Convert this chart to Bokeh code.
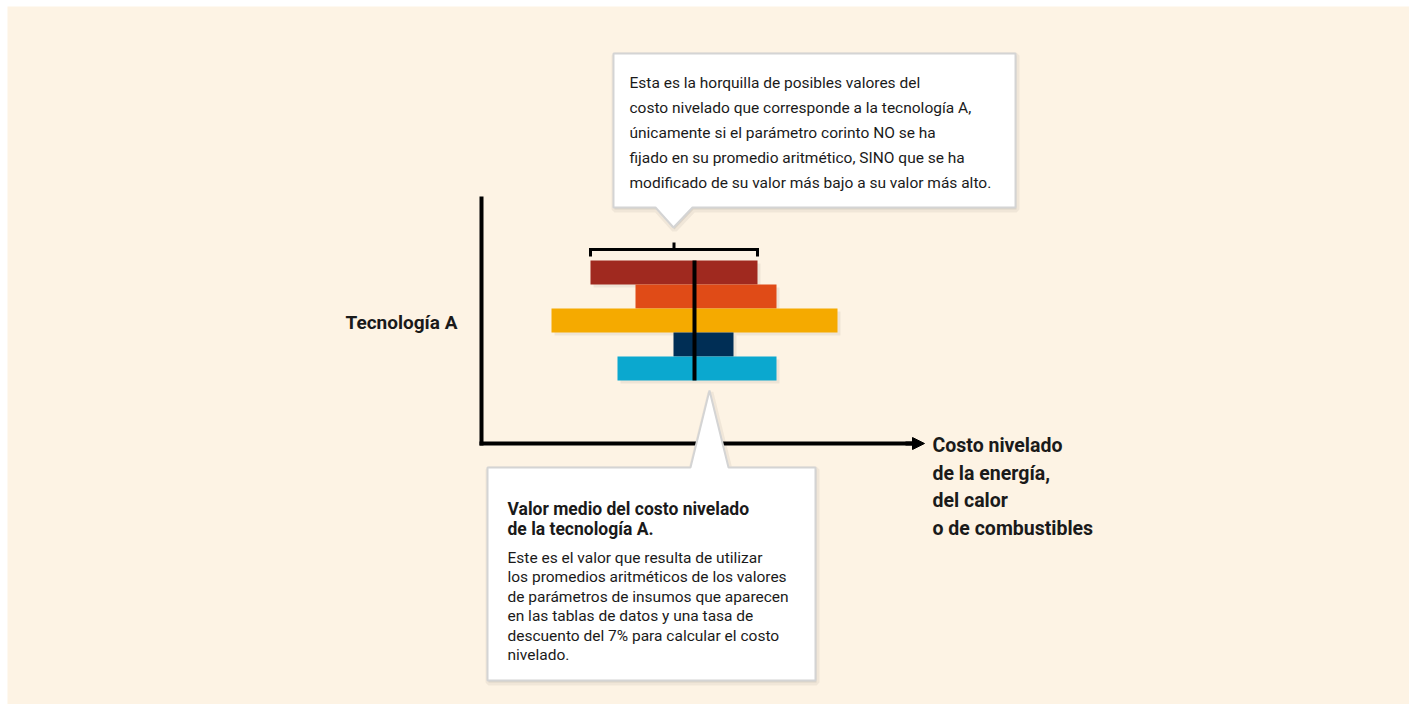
from bokeh.plotting import figure
from bokeh.models import Range1d, Arrow, NormalHead
from bokeh.embed import file_html
from bokeh.resources import INLINE
from bokeh.core.properties import value

# ---------------- data ----------------
parametros = ["Parámetro 1", "Parámetro 2", "Parámetro 3", "Parámetro 4", "Parámetro 5"]
valor_bajo = [10.9, 15.4, 7.0, 19.2, 13.6]
valor_alto = [27.6, 29.5, 35.6, 25.2, 29.5]
valor_medio = 21.3
colores = ["#A0291F", "#E04B17", "#F5AA00", "#002E55", "#0BA8CF"]

etiqueta_y = "Tecnología A"
etiqueta_x = ["Costo nivelado", "de la energía,", "del calor", "o de combustibles"]
texto_arriba = [
    "Esta es la horquilla de posibles valores del",
    "costo nivelado que corresponde a la tecnología A,",
    "únicamente si el parámetro corinto NO se ha",
    "fijado en su promedio aritmético, SINO que se ha",
    "modificado de su valor más bajo a su valor más alto.",
]
titulo_abajo = ["Valor medio del costo nivelado", "de la tecnología A."]
texto_abajo = [
    "Este es el valor que resulta de utilizar",
    "los promedios aritméticos de los valores",
    "de parámetros de insumos que aparecen",
    "en las tablas de datos y una tasa de",
    "descuento del 7% para calcular el costo",
    "nivelado.",
]

# ---------------- layout helpers ----------------
W, H = 1409, 704
L0, T0 = 7, 6          # white strip at left / top
OX, OY = 481, 272
SX, SY = 10.0, 24.0


def X(px):
    return (px - OX) / SX


def Y(py):
    return (py - OY) / SY


FONT = "Roboto"
BG = "#FDF3E4"
INK = "#1a1a1a"

p = figure(width=W, height=H, output_backend="svg", toolbar_location=None,
           x_range=Range1d(X(L0), X(W)), y_range=Range1d(Y(H), Y(T0)),
           x_axis_type=None, y_axis_type=None,
           min_border_left=L0, min_border_top=T0, min_border_right=0, min_border_bottom=0,
           background_fill_color=BG, border_fill_color="white", outline_line_color=None)
p.grid.visible = False

filas = list(range(len(parametros)))

# bar shadows
p.hbar(y=[f + 0.12 for f in filas], left=[v + 0.3 for v in valor_bajo],
       right=[v + 0.3 for v in valor_alto], height=1, fill_color="#000000",
       fill_alpha=0.06, line_color=None)
# bars
p.hbar(y=filas, left=valor_bajo, right=valor_alto, height=1,
       fill_color=colores, line_color=None)
# mean line
p.segment(x0=[valor_medio], y0=[filas[0] - 0.5], x1=[valor_medio], y1=[filas[-1] + 0.5],
          line_color="black", line_width=4)

# bracket over the first bar's range
b0, b1 = valor_bajo[0], valor_alto[0]
bc = (b0 + b1) / 2
p.multi_line(xs=[[b0, b0, b1, b1], [bc, bc]],
             ys=[[Y(256), Y(249), Y(249), Y(256)], [Y(249), Y(242)]],
             line_color="black", line_width=3, line_join="miter")

# axes
p.segment(x0=[X(481)], y0=[Y(196)], x1=[X(481)], y1=[Y(445)], line_color="black", line_width=4)
p.segment(x0=[X(479)], y0=[Y(443)], x1=[X(912)], y1=[Y(443)], line_color="black", line_width=4)
p.add_layout(Arrow(end=NormalHead(size=12, fill_color="black", line_color="black", line_width=1),
                   x_start=X(905), y_start=Y(443), x_end=X(924), y_end=Y(443),
                   line_color="black", line_width=4))

# callouts
top_px = [613, 1015, 1015, 692, 673, 655, 613]
top_py = [53, 53, 207, 207, 227, 207, 207]
bot_px = [487, 690, 709, 728, 815, 815, 487]
bot_py = [467, 467, 390, 467, 467, 680, 680]
for xs_, ys_ in ((top_px, top_py), (bot_px, bot_py)):
    p.patch([X(v + 1) for v in xs_], [Y(v + 2) for v in ys_], fill_color="#000000",
            fill_alpha=0.08, line_color="#000000", line_alpha=0.05, line_width=6)
    p.patch([X(v) for v in xs_], [Y(v) for v in ys_], fill_color="white",
            line_color="#D4D4D4", line_width=2)

# texts
p.text(x=[X(629)] * len(texto_arriba), y=[Y(82 + 25 * i) for i in range(len(texto_arriba))],
       text=texto_arriba, text_font=value(FONT), text_font_size="15.5px",
       text_color=INK, text_baseline="alphabetic", text_align="left")
p.text(x=[X(507)] * len(titulo_abajo), y=[Y(508 + 20 * i) for i in range(len(titulo_abajo))],
       text=titulo_abajo, text_font=value(FONT), text_font_size="17.5px", text_font_style="bold",
       text_color=INK, text_baseline="alphabetic", text_align="left")
p.text(x=[X(507)] * len(texto_abajo), y=[Y(557 + 19.5 * i) for i in range(len(texto_abajo))],
       text=texto_abajo, text_font=value(FONT), text_font_size="15.5px",
       text_color=INK, text_baseline="alphabetic", text_align="left")
p.text(x=[X(345)], y=[Y(322)], text=[etiqueta_y], text_font=value(FONT),
       text_font_size="19px", text_font_style="bold", text_color=INK,
       text_baseline="middle", text_align="left")
p.text(x=[X(932)] * len(etiqueta_x), y=[Y(445 + 27.7 * i) for i in range(len(etiqueta_x))],
       text=etiqueta_x, text_font=value(FONT), text_font_size="19.5px", text_font_style="bold",
       text_color=INK, text_baseline="middle", text_align="left")

open("out.html", "w").write(file_html(p, INLINE))
